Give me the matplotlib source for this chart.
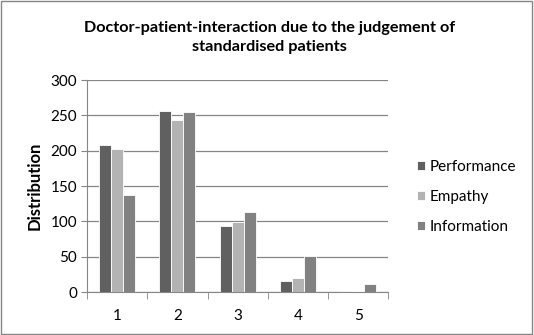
import numpy as np
import matplotlib.pyplot as plt
from matplotlib.patches import Rectangle

# dati
categorie = ['1', '2', '3', '4', '5']
performance = [208, 256, 94, 16, 1]
empathy = [203, 244, 99, 20, 2]
information = [138, 255, 113, 51, 12]

serie = [('Performance', performance, '#606060'),
         ('Empathy', empathy, '#b3b3b3'),
         ('Information', information, '#818181')]

plt.rcParams['font.family'] = ['Lato', 'DejaVu Sans']

fig = plt.figure(figsize=(5.34, 3.35), dpi=100)
ax = fig.add_axes([0.163, 0.128, 0.564, 0.633])

x = np.arange(len(categorie))
w = 0.2
for i, (nome, valori, colore) in enumerate(serie):
    ax.bar(x + (i - 1) * w, valori, width=w, color=colore, edgecolor='white',
           linewidth=0.6, label=nome, zorder=3)

ax.set_xlim(-0.5, len(categorie) - 0.5)
ax.set_ylim(0, 300)
ax.set_yticks(range(0, 301, 50))
ax.set_xticks(x)
ax.set_xticklabels(categorie)
ax.set_xticks(np.arange(-0.5, len(categorie)), minor=True)
ax.tick_params(axis='x', which='major', length=0, pad=12, labelsize=11)
ax.tick_params(axis='x', which='minor', length=5, color='#868686', direction='out')
ax.tick_params(axis='y', length=4, color='#868686', labelsize=11, pad=3)
ax.grid(axis='y', color='#868686', linewidth=0.9, zorder=0)
for s in ['top', 'right']:
    ax.spines[s].set_visible(False)
ax.spines['left'].set_color('#868686')
ax.spines['bottom'].set_color('#868686')

ax.set_ylabel('Distribution', fontsize=12, fontweight='bold', labelpad=6)
fig.text(0.505, 0.888, 'Doctor-patient-interaction due to the judgement of\nstandardised patients',
         ha='center', va='center', fontsize=11.7, fontweight='bold', linespacing=1.45)

ax.legend(loc='center left', bbox_to_anchor=(1.05, 0.45), frameon=False,
          fontsize=11, handlelength=0.5, handleheight=0.5, handletextpad=0.35,
          labelspacing=1.05)

fig.patches.append(Rectangle((0.002, 0.003), 0.995, 0.994, transform=fig.transFigure,
                             fill=False, edgecolor='#868686', linewidth=1))

fig.savefig('out.png', dpi=100)
